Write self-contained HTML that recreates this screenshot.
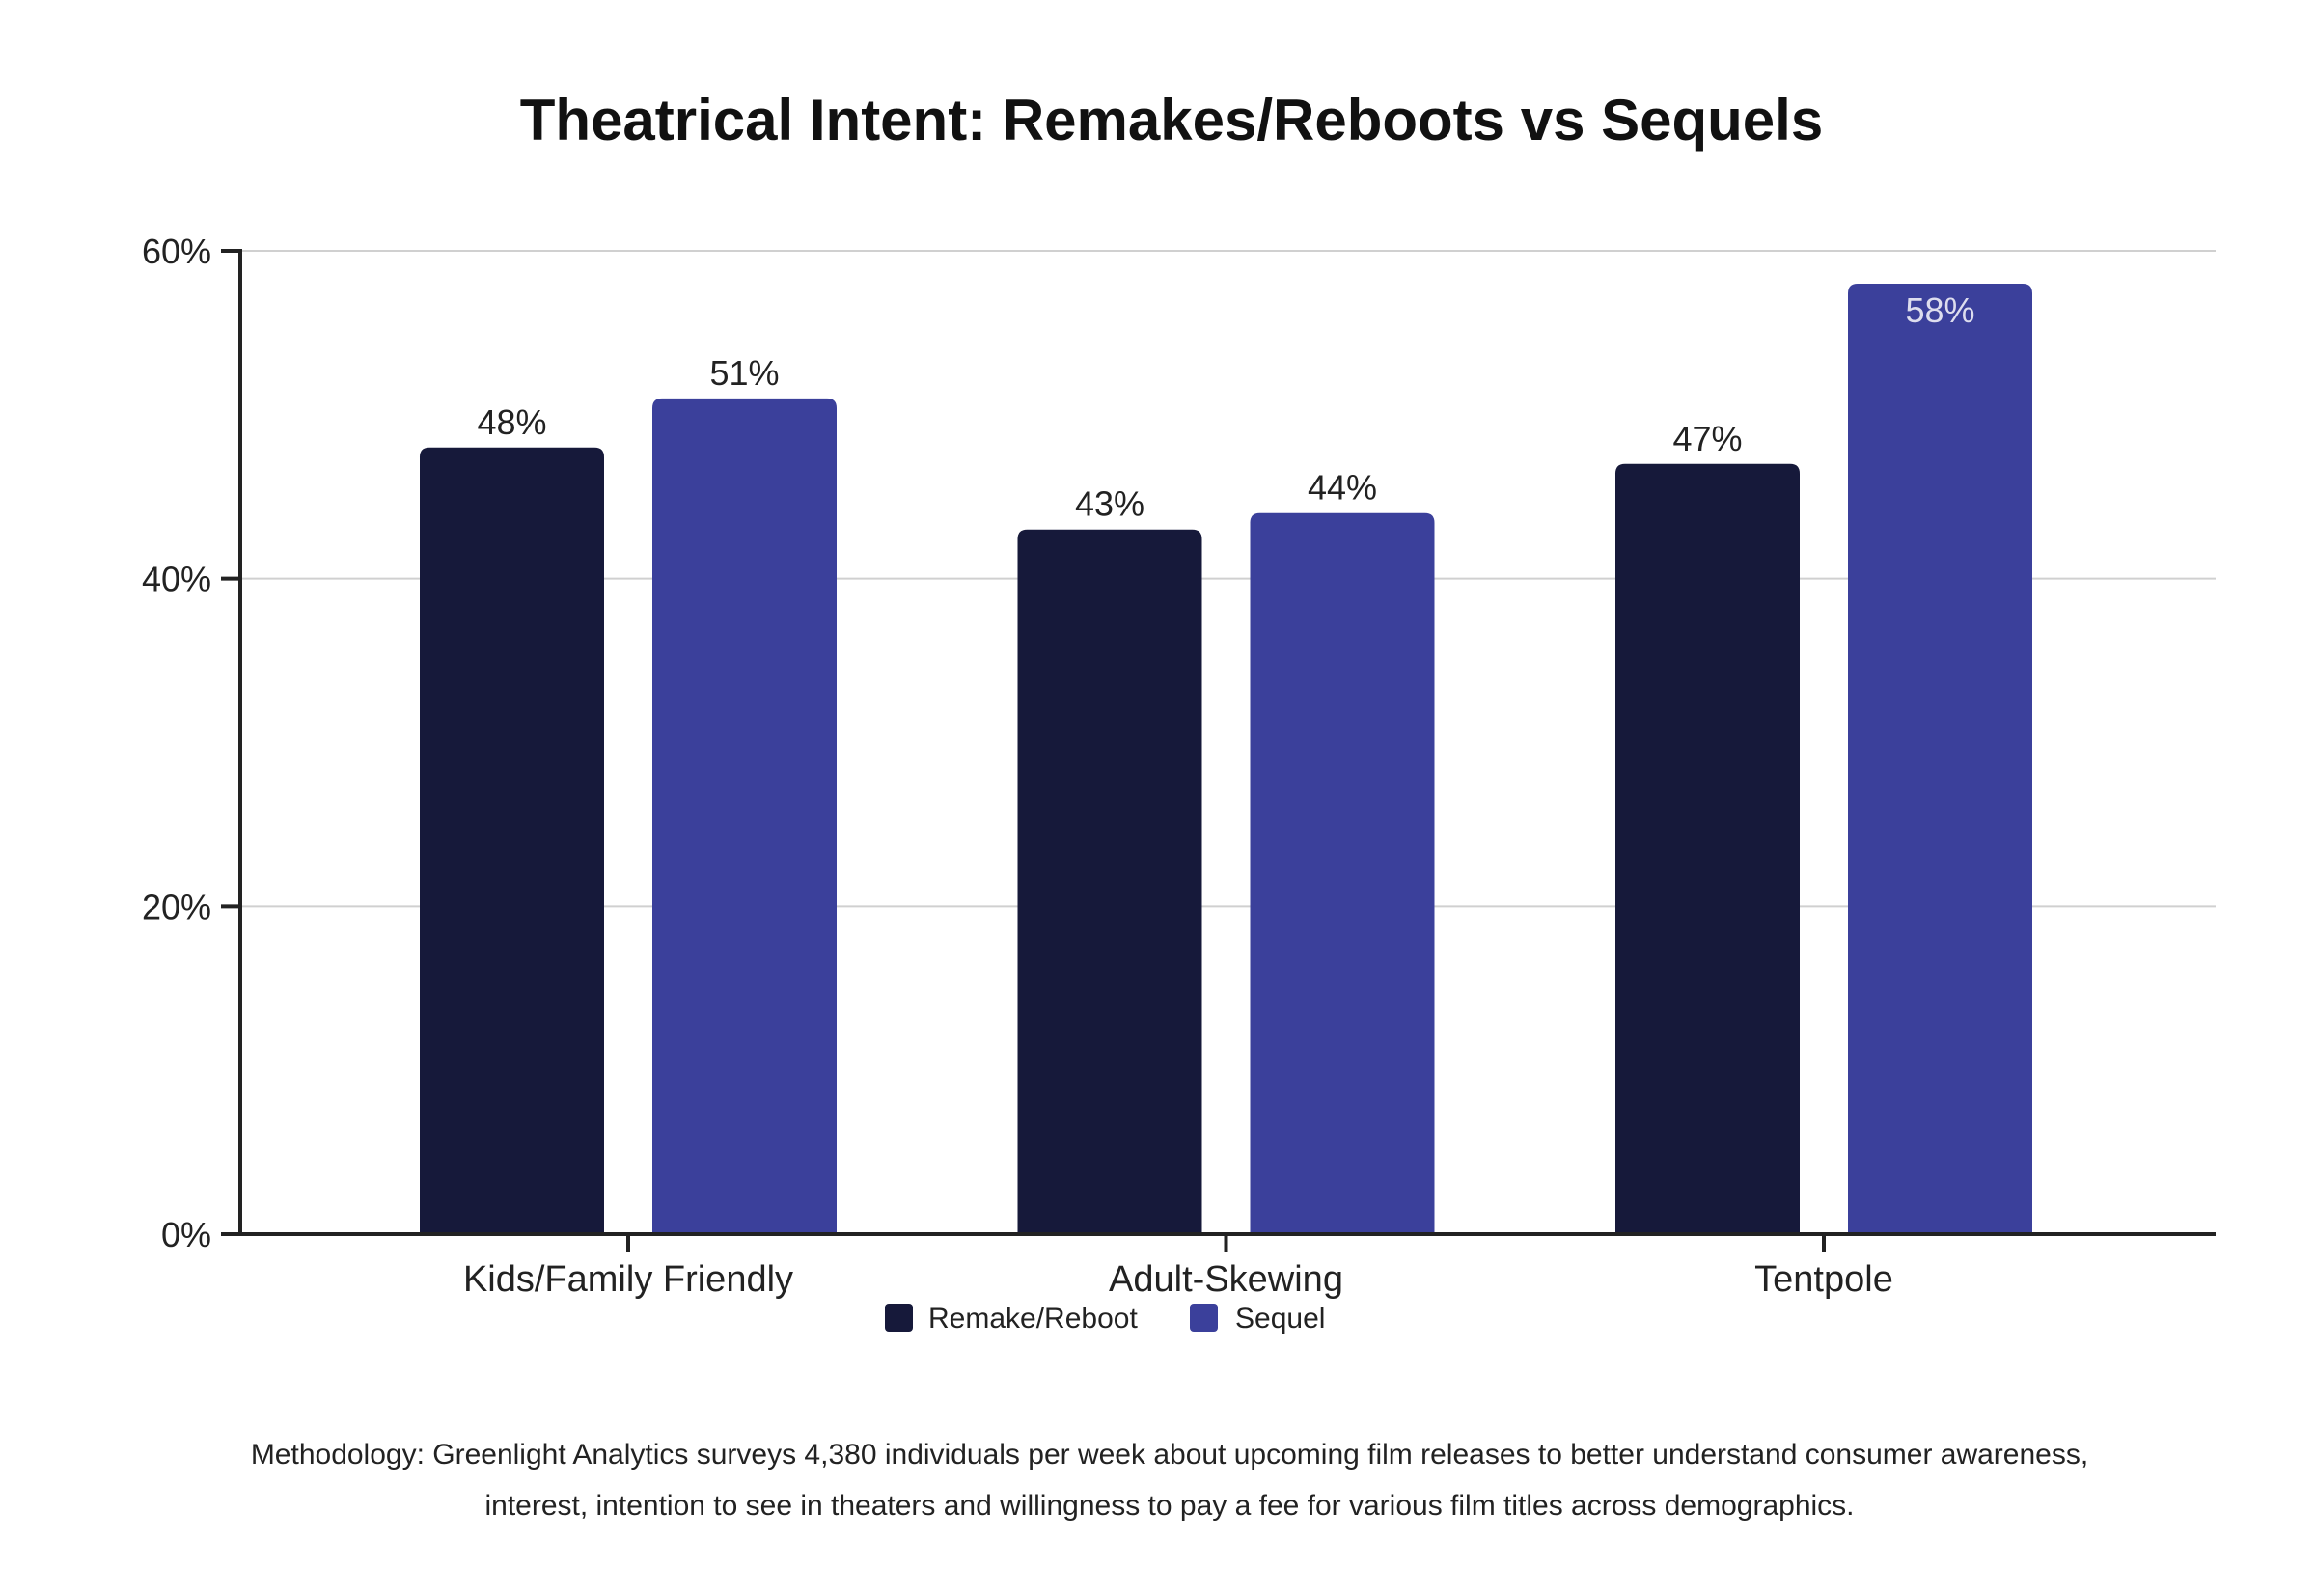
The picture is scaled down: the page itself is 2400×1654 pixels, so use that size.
<!DOCTYPE html>
<html><head><meta charset="utf-8">
<style>
html,body{margin:0;padding:0;background:#fff;}
svg{display:block;font-family:"Liberation Sans",sans-serif;}
</style></head>
<body>
<svg id="chart" width="2400" height="1654" viewBox="0 0 2400 1654" xmlns="http://www.w3.org/2000/svg">
<text x="1214" y="145" text-anchor="middle" font-size="60" font-weight="bold" fill="#111">Theatrical Intent: Remakes/Reboots vs Sequels</text>
<g id="grid"></g>
<g id="bars"></g>
<g id="axes"></g>
<g>
<rect x="917" y="1351" width="29" height="29" rx="4" fill="#16193a"/>
<text x="962" y="1376" font-size="30" fill="#222">Remake/Reboot</text>
<rect x="1233" y="1351" width="29" height="29" rx="4" fill="#3b409b"/>
<text x="1280" y="1376" font-size="30" fill="#222">Sequel</text>
</g>
<text x="1212" y="1517" text-anchor="middle" font-size="30" fill="#222">Methodology: Greenlight Analytics surveys 4,380 individuals per week about upcoming film releases to better understand consumer awareness,</text>
<text x="1212" y="1570" text-anchor="middle" font-size="30" fill="#222">interest, intention to see in theaters and willingness to pay a fee for various film titles across demographics.</text>
</svg>
<script>
const categories = ["Kids/Family Friendly", "Adult-Skewing", "Tentpole"];
const remakeValues = [48, 43, 47];
const sequelValues = [51, 44, 58];
const yTicks = [0, 20, 40, 60];

const NS = "http://www.w3.org/2000/svg";
const x0 = 249, x1 = 2296, yBase = 1279, yTop = 260, yMax = 60;
function y(v){ return yBase - (v / yMax) * (yBase - yTop); }
const groupW = (x1 - x0) / 3.3;
function cx(i){ return 651 + i * 619.5; }
const barW = 191, gap = 50;
function mk(tag, attrs, parent){ const e = document.createElementNS(NS, tag); for (const k in attrs) e.setAttribute(k, attrs[k]); parent.appendChild(e); return e; }

const grid = document.getElementById('grid');
const axes = document.getElementById('axes');
const bars = document.getElementById('bars');

yTicks.forEach(t => {
  if (t > 0) {
    const l = mk('line', {x1: x0, x2: x1, y1: y(t), y2: y(t), stroke: '#d0d0d0', 'stroke-width': 2}, grid);
    
    
  }
  const tk = mk('line', {x1: x0 - 20, x2: x0, y1: y(t), y2: y(t), stroke: '#222', 'stroke-width': 4}, axes);
  
  
  const lb = mk('text', {x: x0 - 30, y: y(t) + 13, 'text-anchor': 'end', 'font-size': 36, fill: '#222'}, axes);
  lb.textContent = t + '%';
  
  
});

function barPath(x, top, w, h, r){
  return `M${x},${top+h} L${x},${top+r} Q${x},${top} ${x+r},${top} L${x+w-r},${top} Q${x+w},${top} ${x+w},${top+r} L${x+w},${top+h} Z`;
}

categories.forEach((c, i) => {
  const center = cx(i);
  [[remakeValues[i], '#16193a', center - gap/2 - barW, 'remake'], [sequelValues[i], '#3b409b', center + gap/2, 'sequel']].forEach(([v, col, bx, s]) => {
    const top = y(v);
    const p = mk('path', {d: barPath(bx, top, barW, yBase - top, 10), fill: col}, bars);
    
    
    const inside = v >= 55;
    const t = mk('text', {x: bx + barW/2, y: inside ? top + 40 : top - 14, 'text-anchor': 'middle', 'font-size': 36, fill: inside ? '#dde' : '#222'}, bars);
    t.textContent = v + '%';
    
    
  });
  const tk = mk('line', {x1: center, x2: center, y1: yBase, y2: yBase + 18, stroke: '#222', 'stroke-width': 4}, axes);
  
  
  const lb = mk('text', {x: center, y: yBase + 59, 'text-anchor': 'middle', 'font-size': 38, fill: '#222'}, axes);
  lb.textContent = c;
  
  
});

const ya = mk('line', {x1: x0, x2: x0, y1: yTop - 2, y2: yBase + 2, stroke: '#222', 'stroke-width': 4}, axes);


const xa = mk('line', {x1: x0 - 2, x2: x1, y1: yBase, y2: yBase, stroke: '#222', 'stroke-width': 4}, axes);


</script>
</body></html>
